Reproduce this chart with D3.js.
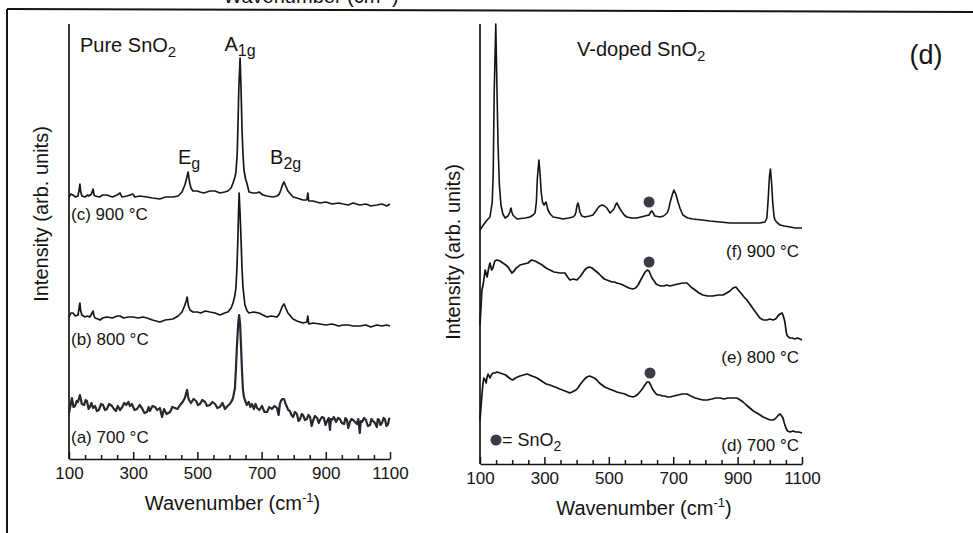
<!DOCTYPE html>
<html>
<head>
<meta charset="utf-8">
<script src="https://cdn.jsdelivr.net/npm/d3@7"></script>
<style>
  body { margin: 0; background: #fff; }
  svg text { font-family: "Liberation Sans", Arial, sans-serif; fill: #141414; }
</style>
</head>
<body>
<div id="chart"></div>
<script>
// tick values (cm-1)
const majorTicks = [100, 300, 500, 700, 900, 1100]
const minorTicks = [150, 200, 250, 350, 400, 450, 550, 600, 650, 750, 800, 850, 950, 1000, 1050]

// pure SnO2, [wavenumber, intensity (arb.)]
const pure900 = [[100,262],[106,265],[112,264],[120,262],[128,263],[132,270],[134,275],[136,268],[140,263],[150,262],[158,264],[162,263],[170,265],[175,270],[178,264],[181,263],[195,262],[205,264],[218,264],[235,262],[250,264],[259,266],[265,262],[281,263],[290,264],[299,265],[305,262],[320,263],[343,262],[360,261],[383,260],[400,262],[424,262],[440,263],[452,267],[461,274],[466,280],[471,287],[476,276],[480,271],[486,268],[500,268],[508,267],[520,266],[539,268],[555,268],[570,266],[585,267],[595,268],[605,271],[611,276],[617,282],[620,287],[624,305],[626,329],[629,370],[633,401],[636,370],[639,329],[642,305],[645,289],[650,280],[654,276],[661,267],[673,266],[685,266],[692,267],[704,264],[717,263],[735,262],[748,263],[755,265],[760,269],[765,274],[770,277],[775,273],[782,268],[790,265],[798,262],[810,261],[829,259],[841,259],[844,266],[847,258],[860,258],[882,256],[900,257],[920,255],[940,256],[954,255],[970,254],[985,256],[1006,254],[1025,255],[1040,253],[1059,254],[1075,255],[1090,253],[1100,255]]
const pure800 = [[100,142],[106,146],[112,146],[120,143],[128,144],[132,152],[134,156],[136,149],[140,144],[150,142],[158,143],[165,142],[172,146],[175,148],[178,143],[181,141],[190,140],[197,139],[205,141],[218,142],[235,141],[250,143],[259,143],[270,141],[285,142],[299,142],[315,141],[330,142],[343,141],[360,139],[383,137],[400,139],[424,140],[440,143],[452,147],[460,153],[465,158],[468,162],[472,153],[477,149],[486,147],[500,147],[510,146],[525,148],[539,147],[555,146],[570,144],[585,146],[595,147],[605,151],[611,156],[617,164],[620,171],[623,190],[626,219],[628,245],[630,266],[633,245],[636,219],[639,190],[642,172],[648,154],[655,148],[661,146],[675,147],[692,146],[704,144],[717,142],[730,143],[748,142],[755,145],[760,149],[765,153],[770,155],[775,151],[782,146],[790,143],[798,140],[810,138],[829,136],[841,137],[844,143],[847,135],[860,136],[882,135],[900,134],[920,135],[940,133],[954,134],[970,134],[985,133],[1006,133],[1025,134],[1040,132],[1059,134],[1075,133],[1090,134],[1100,133]]
const pure700 = [[100,46],[109,61],[114,52],[119,53],[124,58],[128,57],[134,64],[140,55],[147,54],[152,59],[156,58],[161,50],[165,52],[170,56],[175,51],[181,53],[187,48],[193,49],[200,55],[206,54],[212,49],[218,50],[225,55],[234,53],[240,50],[246,48],[252,53],[259,49],[266,52],[272,56],[278,54],[285,57],[290,53],[296,55],[304,49],[312,50],[320,54],[327,51],[335,46],[343,47],[348,52],[352,48],[360,53],[368,52],[375,49],[383,51],[390,42],[396,50],[404,45],[415,47],[422,52],[430,51],[438,50],[446,54],[454,57],[461,61],[465,66],[468,69],[471,62],[474,59],[480,56],[488,60],[496,58],[502,54],[508,55],[515,59],[524,57],[530,53],[539,54],[547,57],[555,55],[562,51],[570,52],[578,56],[586,50],[594,53],[601,55],[607,58],[611,61],[614,66],[617,71],[620,90],[623,112],[627,135],[630,144],[633,135],[636,112],[639,88],[642,69],[645,62],[648,59],[654,54],[660,57],[665,52],[670,55],[676,50],[681,55],[686,51],[693,49],[701,53],[709,47],[717,47],[724,52],[732,50],[740,53],[748,51],[753,44],[757,55],[760,58],[765,60],[770,60],[775,55],[779,52],[783,49],[788,48],[793,44],[798,42],[804,47],[810,45],[815,38],[820,40],[825,45],[829,44],[835,39],[841,40],[846,44],[851,42],[856,33],[860,38],[866,43],[873,41],[878,36],[882,39],[888,42],[894,41],[899,34],[904,38],[909,41],[913,29],[916,40],[919,39],[925,42],[932,37],[938,41],[944,40],[950,36],[957,35],[961,41],[966,39],[970,31],[975,37],[980,40],[985,39],[991,37],[997,35],[1001,40],[1006,26],[1009,38],[1013,37],[1019,41],[1025,39],[1031,33],[1038,34],[1042,40],[1047,38],[1053,36],[1059,32],[1062,40],[1066,39],[1070,34],[1075,36],[1080,41],[1084,40],[1089,33],[1094,35],[1097,40],[1100,41]]

// V-doped SnO2
const vdoped900 = [[100,234],[108,238],[115,241],[122,244],[131,247],[138,262],[141,290],[144,370],[149,440],[153,370],[156,320],[160,280],[165,259],[171,250],[178,246],[187,248],[193,252],[196,256],[199,252],[202,249],[215,245],[240,246],[255,247],[265,249],[271,251],[275,262],[278,285],[283,304],[287,288],[290,272],[294,262],[299,259],[305,262],[311,254],[318,250],[327,247],[345,246],[358,245],[375,246],[389,247],[395,249],[398,252],[401,258],[404,261],[407,258],[410,252],[416,248],[426,247],[440,248],[451,249],[460,253],[466,256],[472,258],[479,259],[487,258],[494,256],[500,253],[504,251],[510,253],[516,255],[521,259],[525,261],[530,258],[535,255],[541,252],[548,249],[556,247],[570,246],[587,246],[600,247],[612,248],[625,249],[630,252],[634,253],[638,251],[643,248],[659,247],[670,248],[681,251],[686,255],[690,261],[696,268],[702,274],[708,270],[715,262],[722,255],[730,249],[745,246],[761,245],[790,244],[814,243],[845,242],[876,241],[900,241],[929,241],[950,241],[969,241],[985,242],[991,246],[995,265],[999,288],[1002,295],[1005,284],[1009,262],[1013,248],[1016,244],[1024,241],[1032,239],[1045,238],[1063,237],[1080,236],[1100,236]]
const vdoped800 = [[100,139],[106,174],[110,180],[116,194],[122,187],[127,196],[131,201],[136,194],[140,196],[146,203],[153,204],[162,203],[171,201],[180,199],[187,197],[193,194],[199,191],[206,193],[212,196],[218,197],[224,199],[236,200],[249,201],[260,204],[271,203],[282,201],[293,199],[305,196],[317,194],[330,192],[348,191],[364,191],[372,187],[379,184],[390,185],[401,184],[410,187],[417,190],[425,194],[432,196],[440,197],[448,196],[455,194],[463,192],[470,190],[479,187],[486,185],[494,184],[502,183],[510,182],[517,182],[525,181],[537,180],[550,178],[562,176],[575,175],[583,176],[591,179],[599,184],[606,188],[613,192],[619,194],[625,193],[630,189],[634,186],[641,183],[647,180],[653,179],[662,178],[671,178],[680,179],[690,178],[702,179],[715,180],[730,181],[743,181],[755,177],[768,174],[780,171],[792,169],[807,168],[823,168],[840,169],[855,169],[866,171],[876,173],[886,176],[895,177],[902,174],[910,171],[920,167],[929,164],[940,159],[951,154],[960,150],[969,146],[980,144],[991,144],[1000,145],[1010,144],[1018,145],[1025,148],[1032,150],[1038,151],[1042,148],[1047,142],[1050,134],[1053,129],[1058,127],[1063,126],[1070,126],[1078,125],[1086,126],[1094,125],[1100,124]]
const vdoped700 = [[100,44],[106,69],[109,80],[112,86],[116,84],[119,81],[122,87],[125,90],[128,88],[131,86],[135,89],[140,91],[146,91],[153,92],[162,91],[171,90],[180,89],[187,87],[195,85],[202,84],[210,86],[217,87],[224,88],[235,89],[246,90],[254,89],[261,88],[270,87],[277,86],[287,84],[296,82],[306,80],[317,79],[325,78],[333,77],[341,76],[348,75],[356,74],[364,73],[372,72],[379,71],[386,72],[392,73],[398,74],[404,76],[410,79],[417,82],[425,85],[432,87],[440,88],[448,87],[455,86],[463,84],[471,81],[479,79],[487,77],[494,76],[502,75],[510,74],[518,73],[525,72],[537,71],[550,70],[562,68],[575,67],[583,68],[591,70],[599,73],[606,76],[612,79],[619,82],[625,82],[630,79],[634,76],[640,73],[647,70],[653,69],[659,69],[667,68],[674,68],[682,67],[690,67],[702,68],[715,69],[728,70],[743,70],[755,68],[768,66],[780,65],[792,64],[806,64],[820,65],[832,66],[845,66],[858,65],[870,66],[885,66],[898,66],[908,64],[917,62],[927,59],[938,56],[949,53],[960,51],[970,49],[979,47],[987,46],[994,45],[1002,44],[1010,44],[1016,45],[1022,47],[1027,49],[1032,50],[1037,48],[1041,46],[1045,41],[1050,36],[1055,33],[1063,32],[1072,33],[1081,32],[1090,32],[1100,31]]

// SnO2 markers over the V-doped curves, [wavenumber, intensity]
const sno2Marks = [[625,262],[625,202],[628,91]]

const pureLabels = ['(c) 900 °C', '(b) 800 °C', '(a) 700 °C']
const vdopedLabels = ['(f) 900 °C', '(e) 800 °C', '(d) 700 °C']
const pureModes = [
  { main: 'E', sub: 'g', wn: 474, level: 'low' },
  { main: 'A', sub: '1g', wn: 633, level: 'high' },
  { main: 'B', sub: '2g', wn: 775, level: 'low' }
]

const width = 973
const height = 533
const ink = '#141414'

const svg = d3.select('#chart')
  .append('svg')
  .attr('width', width)
  .attr('height', height)

svg.append('rect').attr('width', width).attr('height', height).attr('fill', '#fff')

// scan frame and the cut caption of the panel above
svg.append('line')
  .attr('x1', 7).attr('y1', 9).attr('x2', width).attr('y2', 12)
  .attr('stroke', ink).attr('stroke-width', 2)
svg.append('line')
  .attr('x1', 7).attr('y1', 9).attr('x2', 7).attr('y2', height)
  .attr('stroke', ink).attr('stroke-width', 2)

const cut = svg.append('text')
  .attr('x', 311).attr('y', 3)
  .attr('text-anchor', 'middle')
  .attr('font-size', 20)
cut.append('tspan').text('Wavenumber (cm')
cut.append('tspan').attr('dy', -7).attr('font-size', 13).text('-1')
cut.append('tspan').attr('dy', 7).text(')')

function drawPanel(cfg) {
  const x = d3.scaleLinear().domain([100, 1100]).range([cfg.left, cfg.right])
  const y = d3.scaleLinear().domain([0, cfg.bottom - 24]).range([cfg.bottom, 24])
  const g = svg.append('g')

  // y axis, no ticks
  g.append('line')
    .attr('x1', cfg.left).attr('x2', cfg.left)
    .attr('y1', 24).attr('y2', cfg.bottom)
    .attr('stroke', ink).attr('stroke-width', 1.7)

  const minor = d3.axisBottom(x).tickValues(minorTicks).tickSize(-4).tickFormat('')
  const major = d3.axisBottom(x).tickValues(majorTicks).tickSize(-7).tickSizeOuter(0)
    .tickPadding(8).tickFormat(d3.format('d'))

  g.append('g').attr('transform', `translate(0,${cfg.bottom})`).call(minor)
    .call(a => a.select('.domain').remove())
  const ax = g.append('g').attr('transform', `translate(0,${cfg.bottom})`).call(major)
  g.selectAll('.tick line').attr('stroke', ink).attr('stroke-width', 1.5)
  ax.select('.domain').attr('stroke', ink).attr('stroke-width', 1.7)
  ax.selectAll('text')
    .attr('font-size', 17)
    .attr('font-family', '"Liberation Sans", Arial, sans-serif')
    .attr('fill', ink)

  const xl = g.append('text')
    .attr('x', (cfg.left + cfg.right) / 2 + 3)
    .attr('y', cfg.bottom + 51)
    .attr('text-anchor', 'middle')
    .attr('font-size', 20)
  xl.append('tspan').text('Wavenumber (cm')
  xl.append('tspan').attr('dy', -8).attr('font-size', 13).text('-1')
  xl.append('tspan').attr('dy', 8).text(')')

  g.append('text')
    .attr('transform', `translate(${cfg.yLabelX},${cfg.yLabelY}) rotate(-90)`)
    .attr('text-anchor', 'middle')
    .attr('font-size', 20)
    .text('Intensity (arb. units)')

  const line = d3.line().x(d => x(d[0])).y(d => y(d[1]))
  g.selectAll('path.spectrum')
    .data(cfg.series)
    .join('path')
    .attr('class', 'spectrum')
    .attr('d', d => line(d.values))
    .attr('fill', 'none')
    .attr('stroke', d => d.color)
    .attr('stroke-width', d => d.width)
    .attr('stroke-linejoin', 'round')

  g.selectAll('text.temp')
    .data(cfg.labels)
    .join('text')
    .attr('class', 'temp')
    .attr('x', cfg.labelX)
    .attr('y', (d, i) => cfg.labelY[i])
    .attr('text-anchor', cfg.labelAnchor)
    .attr('font-size', 17)
    .text(d => d)

  const title = g.append('text')
    .attr('x', cfg.titleX)
    .attr('y', cfg.titleY)
    .attr('font-size', 20)
  title.append('tspan').text(cfg.title)
  title.append('tspan').attr('dy', 5).attr('font-size', 15).text('2')

  return { g, x, y }
}

const pure = drawPanel({
  left: 69, right: 390, bottom: 459,
  yLabelX: 48, yLabelY: 214,
  series: [
    { values: pure900, color: '#1c1717', width: 1.7 },
    { values: pure800, color: '#161616', width: 1.7 },
    { values: pure700, color: '#2a2630', width: 2.2 }
  ],
  labels: pureLabels, labelX: 71, labelY: [220, 345, 443], labelAnchor: 'start',
  title: 'Pure SnO', titleX: 80, titleY: 52
})

const modes = pure.g.selectAll('text.mode')
  .data(pureModes)
  .join('text')
  .attr('class', 'mode')
  .attr('x', d => pure.x(d.wn))
  .attr('y', d => d.level === 'high' ? 51 : 164)
  .attr('text-anchor', 'middle')
  .attr('font-size', 20)
modes.append('tspan').text(d => d.main)
modes.append('tspan').attr('dy', 5).attr('font-size', 16).text(d => d.sub)

const doped = drawPanel({
  left: 480, right: 802, bottom: 464,
  yLabelX: 460, yLabelY: 252,
  series: [
    { values: vdoped900, color: '#141414', width: 1.6 },
    { values: vdoped800, color: '#141414', width: 1.7 },
    { values: vdoped700, color: '#141414', width: 1.7 }
  ],
  labels: vdopedLabels, labelX: 799, labelY: [257, 363, 451], labelAnchor: 'end',
  title: 'V-doped SnO', titleX: 577, titleY: 56
})

doped.g.selectAll('circle.sno2')
  .data(sno2Marks)
  .join('circle')
  .attr('class', 'sno2')
  .attr('cx', d => doped.x(d[0]))
  .attr('cy', d => doped.y(d[1]))
  .attr('r', 5.5)
  .attr('fill', '#3b3a47')

// legend for the marker
doped.g.append('circle')
  .attr('cx', 496).attr('cy', 440).attr('r', 5.5)
  .attr('fill', '#3b3a47')
const leg = doped.g.append('text')
  .attr('x', 502).attr('y', 446)
  .attr('font-size', 18)
leg.append('tspan').text('= SnO')
leg.append('tspan').attr('dy', 5).attr('font-size', 14).text('2')

svg.append('text')
  .attr('x', 926).attr('y', 64)
  .attr('text-anchor', 'middle')
  .attr('font-size', 27)
  .text('(d)')
</script>
</body>
</html>
